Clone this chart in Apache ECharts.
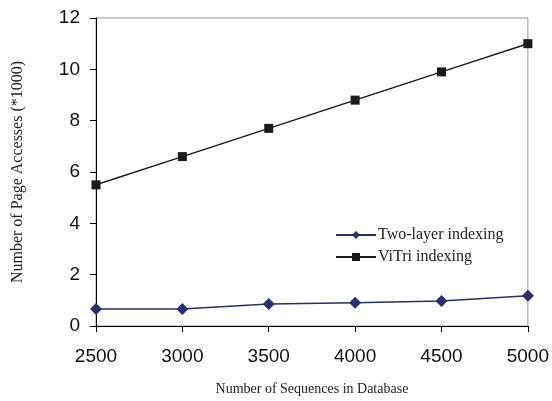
<!DOCTYPE html>
<html><head><meta charset="utf-8">
<script src="https://cdn.jsdelivr.net/npm/echarts@6/dist/echarts.min.js"></script>
<style>html,body{margin:0;padding:0;background:#fff}#c{width:552px;height:401px}</style>
</head><body><div id="c"></div>
<script>
const xValues = [2500, 3000, 3500, 4000, 4500, 5000];
const twoLayer = [0.66, 0.66, 0.86, 0.91, 0.97, 1.18];
const vitri = [5.5, 6.6, 7.7, 8.8, 9.9, 11.0];
const chart = echarts.init(document.getElementById('c'), null, {renderer: 'canvas'});
const pair = arr => xValues.map((x, i) => [x, arr[i]]);
chart.setOption({
  animation: false,
  backgroundColor: '#fff',
  grid: {left: 96, right: 23, top: 18, bottom: 75, show: true, borderColor: '#999', borderWidth: 1},
  legend: {
    orient: 'vertical', left: 330, top: 222, itemWidth: 40, itemHeight: 10, itemGap: 6,
    textStyle: {fontFamily: 'Liberation Serif', fontSize: 16, color: '#222', padding: [0, 0, 0, -3]},
    data: ['Two-layer indexing', 'ViTri indexing']
  },
  xAxis: {
    type: 'value', min: 2500, max: 5000, interval: 500,
    name: 'Number of Sequences in Database', nameLocation: 'middle', nameGap: 56,
    nameTextStyle: {fontFamily: 'Liberation Serif', fontSize: 14, color: '#222'},
    axisLine: {lineStyle: {color: '#000', width: 1}},
    axisTick: {show: true, length: 6, inside: false, lineStyle: {color: '#000'}},
    axisLabel: {fontFamily: 'Liberation Sans', fontSize: 19, color: '#111', margin: 21, formatter: v => String(v)},
    splitLine: {show: false}
  },
  yAxis: {
    type: 'value', min: 0, max: 12, interval: 2,
    name: 'Number of Page Accesses (*1000)', nameLocation: 'middle', nameGap: 70,
    nameTextStyle: {fontFamily: 'Liberation Serif', fontSize: 16, color: '#222'},
    axisLine: {show: true, lineStyle: {color: '#000', width: 1}},
    axisTick: {show: true, length: 6, lineStyle: {color: '#000'}},
    axisLabel: {fontFamily: 'Liberation Sans', fontSize: 19, color: '#111', margin: 16},
    splitLine: {show: false}
  },
  series: [
    {name: 'Two-layer indexing', type: 'line', data: pair(twoLayer), symbol: 'diamond', symbolSize: 12,
     itemStyle: {color: '#2b2f6b'}, lineStyle: {color: '#2b2f6b', width: 1.5}},
    {name: 'ViTri indexing', type: 'line', data: pair(vitri), symbol: 'rect', symbolSize: 9,
     itemStyle: {color: '#1a1a1a'}, lineStyle: {color: '#1a1a1a', width: 1.5}}
  ]
});
</script></body></html>
